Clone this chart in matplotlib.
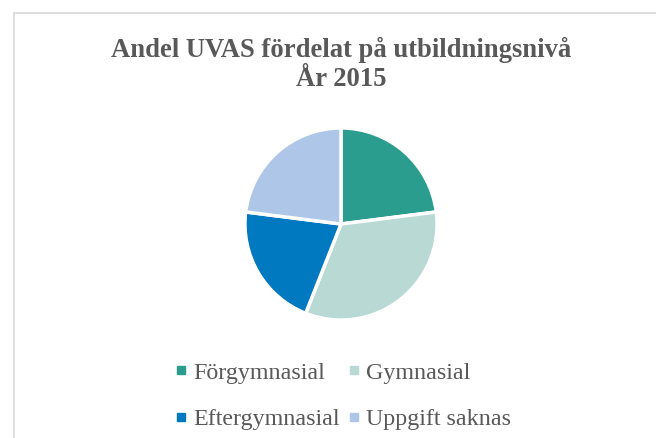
import matplotlib.pyplot as plt
from matplotlib.lines import Line2D

labels = ['Förgymnasial', 'Gymnasial', 'Eftergymnasial', 'Uppgift saknas']
shares = [23, 33, 21, 23]
colors = ['#2a9d8f', '#b8d9d4', '#0079c1', '#aec7e8']

plt.rcParams['font.family'] = ['Liberation Serif', 'DejaVu Serif']

fig = plt.figure(figsize=(6.56, 4.38), dpi=100)

# chart frame (only left/top edges visible in the crop)
fig.add_artist(Line2D([13.5 / 656, 13.5 / 656], [0, 1 - 12.5 / 438],
                      transform=fig.transFigure, color='#d9d9d9', lw=1.2))
fig.add_artist(Line2D([13.5 / 656, 1], [1 - 12.5 / 438, 1 - 12.5 / 438],
                      transform=fig.transFigure, color='#d9d9d9', lw=1.2))

r = 97
cx, cy = 341, 224
ax = fig.add_axes([(cx - r) / 656, 1 - (cy + r) / 438, 2 * r / 656, 2 * r / 438])
ax.pie(shares, colors=colors, startangle=90, counterclock=False,
       wedgeprops=dict(edgecolor='white', linewidth=2.5))
ax.set_xlim(-1.01, 1.01)
ax.set_ylim(-1.01, 1.01)
ax.set_aspect('equal')

fig.text(341 / 656, 1 - 50 / 438, 'Andel UVAS fördelat på utbildningsnivå',
         ha='center', va='center', fontsize=19.2, fontweight='bold', color='#595959')
fig.text(341 / 656, 1 - 79 / 438, 'År 2015',
         ha='center', va='center', fontsize=19.2, fontweight='bold', color='#595959')

handles = [Line2D([], [], marker='s', ls='', color=c, markersize=6) for c in colors]
# legend fills column-wise, reorder so rows read F, G / E, U
order = [0, 2, 1, 3]
fig.legend([handles[i] for i in order], [labels[i] for i in order], ncol=2, loc='center',
           bbox_to_anchor=(341 / 656, 1 - 396 / 438),
           frameon=False, fontsize=17.3, labelcolor='#595959', handletextpad=0.1,
           columnspacing=0.2, labelspacing=1.03, handlelength=0.8)

fig.savefig('out.png', dpi=100)
